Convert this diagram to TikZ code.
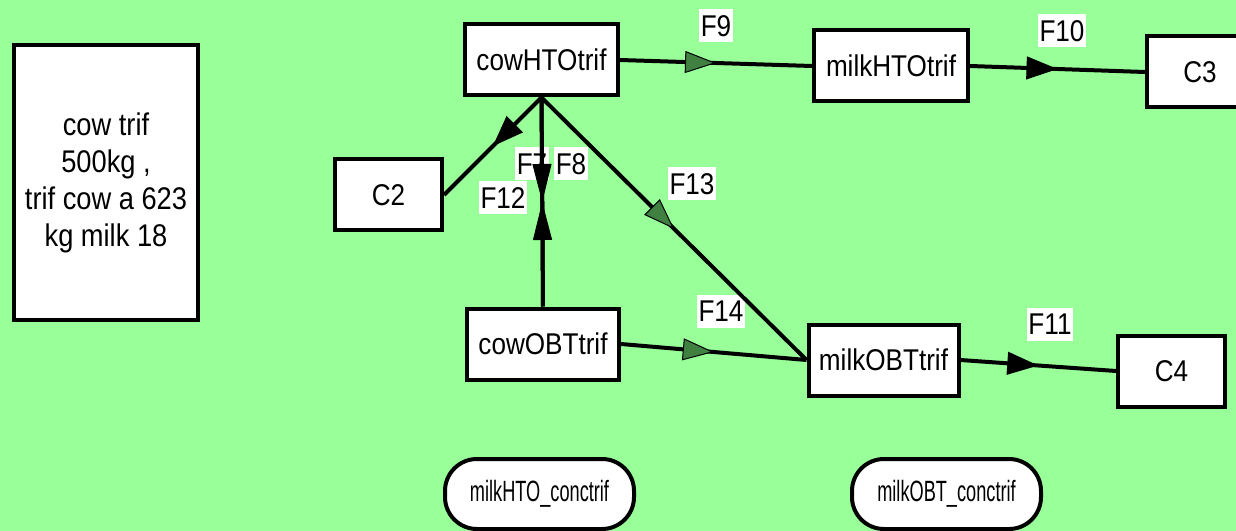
\documentclass[tikz,border=0pt]{standalone}
\usepackage{fontspec}
\setmainfont{Liberation Sans}[FakeStretch=0.87]
\newfontfamily\narrowfont{Liberation Sans}[FakeStretch=0.62]
\usetikzlibrary{arrows.meta,decorations.markings}

\definecolor{bggreen}{RGB}{153,255,153}
\definecolor{tipgreen}{RGB}{64,128,64}
\def\pu{0.75pt}

\tikzset{
  every node/.style={font=\fontsize{22.5pt}{27.75pt}\selectfont},
  box/.style={draw=black, fill=white, line width=3pt, inner sep=0pt,
    minimum width=#1*\pu, minimum height=71*\pu},
  box/.default=154,
  pill/.style={draw=black, fill=white, line width=3pt, inner sep=0pt,
    rounded corners=32*\pu, minimum width=189*\pu, minimum height=70*\pu,
    font=\narrowfont\fontsize{22pt}{26pt}\selectfont},
  flab/.style={fill=white, inner xsep=1pt, inner ysep=0pt,
    minimum height=33*\pu},
  flow/.style={draw=black, line width=3pt},
  greenmid/.style={flow, postaction={decorate}, decoration={markings,
    mark=at position 0.5 with {\arrow{Triangle[length=31*\pu, width=22*\pu,
      fill=tipgreen, line width=0.75pt]}}}},
  blackmid/.style={flow, postaction={decorate}, decoration={markings,
    mark=at position 0.5 with {\arrow{Triangle[length=31*\pu, width=23*\pu,
      line width=0.75pt]}}}},
  blacklong/.style={flow, postaction={decorate}, decoration={markings,
    mark=at position 0.5 with {\arrow{Triangle[length=38*\pu, width=19*\pu,
      line width=0.75pt]}}}},
}

\begin{document}
\begin{tikzpicture}[x=0.75pt, y=-0.75pt]
  % canvas
  \fill[bggreen] (0,0) rectangle (1236,531);
  \useasboundingbox (0,0) rectangle (1236,531);

  % note box
  \node[draw=black, fill=white, line width=3pt, inner sep=0pt,
        minimum width=184*\pu, minimum height=275*\pu, align=center,
        font=\fontsize{23.5pt}{27.75pt}\selectfont]
    (note) at (106,182.5) {cow trif\\500kg ,\\trif cow a 623\\kg milk 18};

  % compartments
  \node[box=153] (cowHTO) at (541.5,60) {cowHTOtrif};
  \node[box=154] (milkHTO) at (891,66) {milkHTOtrif};
  \node[box=106] (C3) at (1200,72) {C3};
  \node[box=107] (C2) at (388.5,195) {C2};
  \node[box=152] (cowOBT) at (543,344) {cowOBTtrif};
  \node[box=150] (milkOBT) at (883.5,360) {milkOBTtrif};
  \node[box=107] (C4) at (1171.5,371) {C4};

  % concentration outputs
  \node[pill] (concHTO) at (539.5,494) {milkHTO\_conctrif};
  \node[pill] (concOBT) at (946.5,494) {milkOBT\_conctrif};

  % flow labels
  \node[flab] (lF9)  at (716,26)   {F9};
  \node[flab] (lF10) at (1062,31)  {F10};
  \node[flab] (lF7)  at (532,164)  {F7};
  \node[flab] (lF8)  at (571,164)  {F8};
  \node[flab] (lF12) at (503,198)  {F12};
  \node[flab] (lF13) at (692,184)  {F13};
  \node[flab] (lF14) at (721,311)  {F14};
  \node[flab] (lF11) at (1050,324) {F11};

  % flows
  \draw[greenmid] (cowHTO.east) -- (milkHTO.west);
  \draw[blackmid] (milkHTO.east) -- (C3.west);
  \draw[blackmid] (cowHTO.south) -- (C2.east);
  \draw[blacklong] (cowHTO.south) -- (cowOBT.north);
  \draw[blacklong] (cowOBT.north) -- (cowHTO.south);
  \draw[greenmid] (cowHTO.south) -- (milkOBT.west);
  \draw[greenmid] (cowOBT.east) -- (milkOBT.west);
  \draw[blackmid] (milkOBT.east) -- (C4.west);
\end{tikzpicture}
\end{document}
